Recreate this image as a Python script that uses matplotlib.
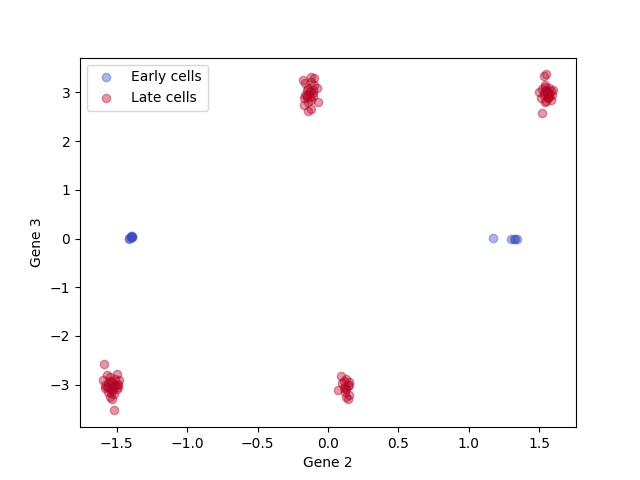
import matplotlib
matplotlib.use("Agg")
import matplotlib.pyplot as plt

early_x = [-1.41, -1.40, -1.39, -1.40, -1.39, -1.40, -1.41, -1.39, 1.17, 1.30, 1.33, 1.32, 1.34]
early_y = [0.00, 0.03, 0.05, 0.04, 0.03, 0.05, 0.02, 0.04, 0.02, 0.00, -0.01, 0.00, -0.01]

late_x = [
    # bottom-left cluster
    -1.59, -1.52, -1.53, -1.55, -1.50, -1.48, -1.57, -1.54, -1.51, -1.60, -1.56,
    -1.53, -1.49, -1.55, -1.52, -1.58, -1.50, -1.54, -1.56, -1.51, -1.53, -1.57,
    -1.49, -1.52, -1.55, -1.54, -1.50, -1.58, -1.53, -1.56,
    # top-middle cluster
    -0.18, -0.12, -0.10, -0.16, -0.08, -0.07, -0.14, -0.12, -0.17, -0.15, -0.13,
    -0.11, -0.14, -0.16, -0.12, -0.10, -0.15, -0.13, -0.11, -0.14, -0.17, -0.12,
    -0.13, -0.15, -0.11,
    # top-right cluster
    1.53, 1.55, 1.52, 1.50, 1.60, 1.58, 1.54, 1.56, 1.57, 1.53, 1.55, 1.51, 1.59,
    1.56, 1.54, 1.57, 1.52, 1.55, 1.58, 1.53, 1.56, 1.54, 1.57, 1.55,
    # bottom-middle cluster
    0.09, 0.07, 0.14, 0.15, 0.15, 0.11, 0.13, 0.12, 0.13, 0.10, 0.14, 0.12,
    0.15, 0.13, 0.11,
]
late_y = [
    # bottom-left cluster
    -2.57, -3.53, -3.29, -3.25, -2.78, -2.90, -3.05, -3.10, -3.00, -2.90, -3.15,
    -2.95, -3.05, -2.85, -3.20, -3.00, -3.10, -2.95, -3.05, -2.88, -3.12, -2.80,
    -2.98, -3.02, -2.92, -3.18, -3.00, -3.08, -3.06, -2.97,
    # top-middle cluster
    3.25, 3.32, 3.30, 3.20, 3.10, 2.80, 2.62, 2.65, 2.75, 2.90, 3.00,
    3.05, 3.10, 2.95, 2.85, 3.15, 3.05, 2.90, 2.98, 2.80, 2.88, 3.22,
    3.02, 2.95, 2.92,
    # top-right cluster
    3.33, 3.37, 2.57, 3.00, 3.05, 2.85, 2.80, 2.90, 3.10, 2.95, 3.05, 2.88, 2.95,
    3.00, 3.12, 2.92, 3.08, 2.82, 3.02, 2.98, 2.88, 3.15, 2.97, 3.03,
    # bottom-middle cluster
    -2.82, -3.12, -3.30, -3.22, -2.95, -2.93, -2.88, -3.05, -3.25, -2.97, -3.02,
    -3.15, -3.00, -3.10, -3.08,
]

fig, ax = plt.subplots(figsize=(6.4, 4.8), dpi=100)
ax.scatter(early_x, early_y, color="#3b4cc0", alpha=0.4, label="Early cells")
ax.scatter(late_x, late_y, color="#b40426", alpha=0.4, label="Late cells")
ax.set_xlabel("Gene 2")
ax.set_ylabel("Gene 3")
ax.legend(loc="upper left")
fig.savefig("out.png")
